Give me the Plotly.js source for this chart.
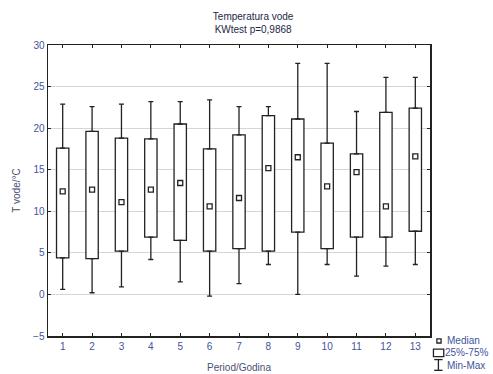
<!DOCTYPE html>
<html>
<head>
<meta charset="utf-8">
<script src="https://cdn.plot.ly/plotly-3.0.1.min.js"></script>
<style>html,body{margin:0;padding:0;background:#fff;}#chart{width:493px;height:374px;}</style>
</head>
<body>
<div id="chart"></div>
<script>
// Data
const periods = [1,2,3,4,5,6,7,8,9,10,11,12,13];
const tickLabels = ['1','2','3','4','5','6','7','8','9','10','11','12','13'];
const minVals    = [0.6, 0.2, 0.9, 4.2, 1.5, -0.2, 1.3, 3.6, 0.0, 3.6, 2.2, 3.4, 3.6];
const q1Vals     = [4.4, 4.3, 5.2, 6.9, 6.5, 5.2, 5.5, 5.2, 7.5, 5.5, 6.9, 6.9, 7.6];
const medianVals = [12.4, 12.6, 11.1, 12.6, 13.4, 10.6, 11.6, 15.2, 16.5, 13.0, 14.7, 10.6, 16.6];
const q3Vals     = [17.6, 19.6, 18.8, 18.7, 20.5, 17.5, 19.2, 21.5, 21.1, 18.2, 16.9, 21.9, 22.4];
const maxVals    = [22.9, 22.6, 22.9, 23.2, 23.2, 23.4, 22.6, 22.6, 27.8, 27.8, 22.0, 26.1, 26.1];

const ink = '#222222';
const tickColor = '#42549a';
const fontFam = 'Liberation Sans, Arial, sans-serif';

const boxTrace = {
  type: 'bar',
  x: periods,
  base: q1Vals,
  y: q3Vals.map((v, i) => v - q1Vals[i]),
  width: 0.42,
  marker: {color: '#ffffff', line: {color: ink, width: 1.3}},
  showlegend: false,
  hoverinfo: 'skip'
};
const upperWhisker = {
  type: 'scatter', mode: 'markers',
  x: periods, y: q3Vals,
  marker: {size: 1, opacity: 0},
  error_y: {type: 'data', symmetric: false,
    array: maxVals.map((v, i) => v - q3Vals[i]),
    arrayminus: periods.map(() => 0),
    color: ink, thickness: 1.3, width: 2.5},
  showlegend: false, hoverinfo: 'skip'
};
const lowerWhisker = {
  type: 'scatter', mode: 'markers',
  x: periods, y: q1Vals,
  marker: {size: 1, opacity: 0},
  error_y: {type: 'data', symmetric: false,
    array: periods.map(() => 0),
    arrayminus: q1Vals.map((v, i) => v - minVals[i]),
    color: ink, thickness: 1.3, width: 2.5},
  showlegend: false, hoverinfo: 'skip'
};
const medianTrace = {
  type: 'scatter', mode: 'markers',
  x: periods, y: medianVals,
  marker: {symbol: 'square-open', size: 5, color: ink, line: {width: 1.3, color: ink}},
  showlegend: false
};

const layout = {
  width: 493, height: 374,
  margin: {l: 48, r: 63, t: 45, b: 38},
  paper_bgcolor: '#ffffff', plot_bgcolor: '#ffffff',
  font: {family: fontFam, size: 10, color: tickColor},
  showlegend: false,
  bargap: 0,
  xaxis: {
    range: [0.5, 13.5],
    tickmode: 'array', tickvals: periods, ticktext: tickLabels,
    ticks: 'inside', ticklen: 3, tickwidth: 1, tickcolor: ink,
    showgrid: false, zeroline: false,
    showline: true, linecolor: ink, linewidth: 1.5, mirror: 'ticks',
    tickfont: {size: 10, color: tickColor},
    title: {text: 'Period/Godina', font: {size: 10, color: '#4a5070'}, standoff: 13}
  },
  yaxis: {
    range: [-5, 30],
    tickvals: [-5, 0, 5, 10, 15, 20, 25, 30],
    ticks: 'inside', ticklen: 3, tickwidth: 1, tickcolor: ink,
    showgrid: true, gridcolor: '#d6d6d6', gridwidth: 1,
    zeroline: false,
    showline: true, linecolor: ink, linewidth: 1.5, mirror: 'ticks',
    tickfont: {size: 10, color: tickColor},
    title: {text: 'T vode/°C', font: {size: 10, color: '#4a5070'}, standoff: 10}
  },
  title: {
    text: 'Temperatura vode<br>KWtest p=0,9868',
    font: {size: 10, color: '#1d2748'},
    x: 0.537, xref: 'paper', xanchor: 'center',
    y: 0.946, yref: 'container', yanchor: 'top'
  },
  shapes: [
    // legend: median symbol
    {type: 'rect', xref: 'paper', yref: 'paper', x0: 1.018, x1: 1.029, y0: -0.01, y1: -0.024,
      line: {color: ink, width: 1.3}, fillcolor: '#fff'},
    // legend: box symbol
    {type: 'rect', xref: 'paper', yref: 'paper', x0: 1.009, x1: 1.036, y0: -0.045, y1: -0.071,
      line: {color: ink, width: 1.3}, fillcolor: '#fff'},
    // legend: min-max symbol
    {type: 'line', xref: 'paper', yref: 'paper', x0: 1.022, x1: 1.022, y0: -0.081, y1: -0.118,
      line: {color: ink, width: 1.3}},
    {type: 'line', xref: 'paper', yref: 'paper', x0: 1.011, x1: 1.033, y0: -0.081, y1: -0.081,
      line: {color: ink, width: 1.3}},
    {type: 'line', xref: 'paper', yref: 'paper', x0: 1.011, x1: 1.033, y0: -0.118, y1: -0.118,
      line: {color: ink, width: 1.3}}
  ],
  annotations: [
    {text: 'Median', xref: 'paper', yref: 'paper', x: 1.040, y: -0.017, xanchor: 'left', yanchor: 'middle',
      showarrow: false, font: {size: 10, color: tickColor}},
    {text: '25%-75%', xref: 'paper', yref: 'paper', x: 1.034, y: -0.058, xanchor: 'left', yanchor: 'middle',
      showarrow: false, font: {size: 10, color: tickColor}},
    {text: 'Min-Max', xref: 'paper', yref: 'paper', x: 1.040, y: -0.100, xanchor: 'left', yanchor: 'middle',
      showarrow: false, font: {size: 10, color: tickColor}}
  ]
};

Plotly.newPlot('chart', [boxTrace, upperWhisker, lowerWhisker, medianTrace], layout,
  {staticPlot: true, displayModeBar: false});
</script>
</body>
</html>
